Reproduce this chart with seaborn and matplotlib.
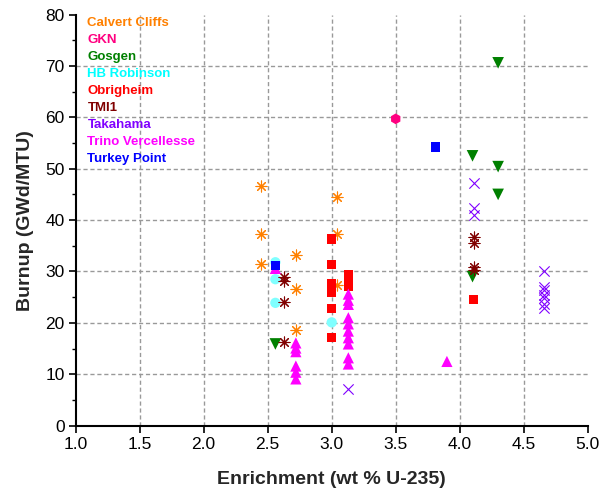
import matplotlib
matplotlib.use("Agg")
import matplotlib.pyplot as plt
import seaborn as sns
import pandas as pd

# Fuel assay data: initial enrichment (wt % U-235) and burnup (GWd/MTU)
calvert_x = [2.45, 2.45, 2.45, 2.72, 2.72, 2.72, 3.04, 3.04, 3.04]
calvert_y = [46.6, 37.3, 31.5, 33.2, 26.6, 18.7, 44.4, 37.3, 27.4]

gkn_x = [3.50]
gkn_y = [59.7]

gosgen_x = [2.56, 4.30, 4.10, 4.30, 4.30, 4.10]
gosgen_y = [15.9, 70.6, 52.5, 50.4, 45.0, 29.0]

robinson_x = [2.56, 2.56, 2.56, 3.00]
robinson_y = [31.8, 28.5, 23.9, 20.1]

obrigheim_x = [3.00, 3.00, 3.00, 3.00, 3.00, 3.00, 3.00, 3.13, 3.13, 3.13, 4.11]
obrigheim_y = [36.3, 31.3, 27.6, 26.7, 25.9, 22.8, 17.2, 29.3, 28.2, 27.1, 24.5]

tmi_x = [2.63, 2.63, 2.63, 2.63, 4.11, 4.11, 4.11, 4.11]
tmi_y = [29.0, 28.2, 24.1, 16.3, 36.8, 35.5, 30.9, 30.3]

takahama_x = [3.13, 4.11, 4.11, 4.11, 4.66, 4.66, 4.66, 4.66, 4.66, 4.66, 4.66]
takahama_y = [7.2, 47.2, 42.4, 40.9, 30.0, 27.0, 26.4, 25.4, 24.8, 23.6, 22.8]

trino_x = [2.56, 2.72, 2.72, 2.72, 2.72, 2.72, 2.72,
           3.13, 3.13, 3.13, 3.13, 3.13, 3.13, 3.13, 3.13, 3.13, 3.13, 3.90]
trino_y = [30.6, 16.1, 15.1, 14.4, 11.6, 10.4, 9.1,
           25.6, 24.4, 23.6, 21.0, 19.8, 18.4, 17.1, 15.9, 13.2, 12.0, 12.5]

turkey_x = [2.56, 3.81]
turkey_y = [31.1, 54.2]

series = [
    ("Calvert Cliffs", calvert_x, calvert_y, (8, 2, 0), "#FF8000", "#FF8000", 62),
    ("GKN", gkn_x, gkn_y, "h", "#FF0080", "#FF0080", 60),
    ("Gosgen", gosgen_x, gosgen_y, "v", "#008000", "#008000", 70),
    ("HB Robinson", robinson_x, robinson_y, "o", "#80FFFF", "#00FFFF", 55),
    ("Obrigheim", obrigheim_x, obrigheim_y, "s", "#FF0000", "#FF0000", 45),
    ("TMI1", tmi_x, tmi_y, (8, 2, 0), "#800000", "#800000", 62),
    ("Takahama", takahama_x, takahama_y, "x", "#8000FF", "#8000FF", 55),
    ("Trino Vercellesse", trino_x, trino_y, "^", "#FF00FF", "#FF00FF", 65),
    ("Turkey Point", turkey_x, turkey_y, "s", "#0000FF", "#0000FF", 45),
]

sns.set_style("ticks")
plt.rcParams["font.family"] = ["Liberation Sans", "DejaVu Sans"]

fig = plt.figure(figsize=(6.02, 4.92), dpi=100)
ax = fig.add_axes([0.1257, 0.1348, 0.8506, 0.8357])

for name, xs, ys, marker, color, _, size in series:
    df = pd.DataFrame({"Enrichment": xs, "Burnup": ys})
    line_marker = marker == "x" or isinstance(marker, tuple)
    sns.scatterplot(
        data=df, x="Enrichment", y="Burnup", ax=ax, marker=marker,
        s=size, color=color, label=name,
        edgecolor=color if line_marker else "none",
        linewidth=0.8 if line_marker else 0,
        zorder=3,
    )

ax.set_xlim(1.0, 5.0)
ax.set_ylim(0, 80)
ax.set_xticks([1.0, 1.5, 2.0, 2.5, 3.0, 3.5, 4.0, 4.5, 5.0])
ax.set_xticklabels(["1.0", "1.5", "2.0", "2.5", "3.0", "3.5", "4.0", "4.5", "5.0"])
ax.set_yticks(range(0, 81, 10))
ax.set_yticks(range(5, 80, 10), minor=True)

ax.grid(True, which="major", linestyle=(0, (3, 2)), color="#999999", linewidth=1.0)
for ticks in (ax.xaxis.get_major_ticks(), ax.yaxis.get_major_ticks()):
    ticks[0].gridline.set_visible(False)
    ticks[-1].gridline.set_visible(False)

ax.tick_params(axis="both", which="major", direction="out", length=5, width=1.2,
               labelsize=12.5, color="black", labelcolor="black", pad=3)
ax.tick_params(axis="y", which="minor", direction="out", length=3, width=1.0, color="black")

for side in ("top", "right"):
    ax.spines[side].set_visible(False)
for side in ("left", "bottom"):
    ax.spines[side].set_linewidth(1.5)
    ax.spines[side].set_color("black")

ax.set_xlabel("Enrichment (wt % U-235)", fontsize=14, fontweight="bold", labelpad=14)
ax.set_ylabel("Burnup (GWd/MTU)", fontsize=14, fontweight="bold", labelpad=8)

leg = ax.legend(loc="upper left", bbox_to_anchor=(0.01, 1.01), frameon=False,
                handlelength=0, handletextpad=0, borderpad=0, labelspacing=0.36,
                prop={"weight": "bold", "size": 9.5})
for text, handle, s in zip(leg.get_texts(), leg.legend_handles, series):
    text.set_color(s[5])
    handle.set_visible(False)

fig.savefig("out.png", dpi=100)
